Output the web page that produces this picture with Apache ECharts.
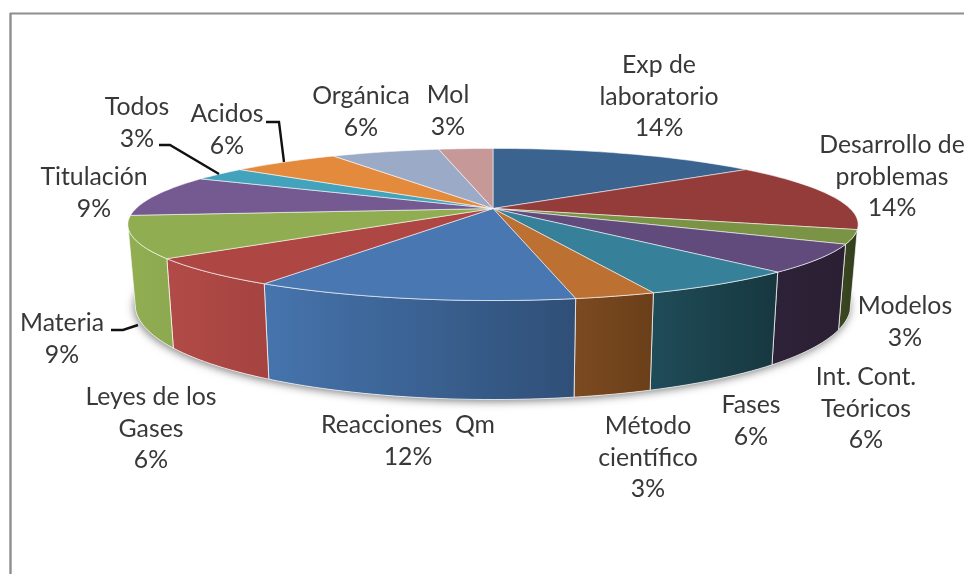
<!DOCTYPE html>
<html>
<head>
<meta charset="utf-8">
<style>html,body{margin:0;padding:0;background:#fff}#c{width:964px;height:574px}</style>
<script src="https://cdn.jsdelivr.net/npm/echarts@6/dist/echarts.min.js"></script>
</head>
<body>
<div id="c"></div>
<script>
// Data
const categories = ['Exp de\nlaboratorio','Desarrollo de\nproblemas','Modelos','Int. Cont.\nTeóricos','Fases','Método\ncientífico','Reacciones  Qm','Leyes de los\nGases','Materia','Titulación','Todos','Acidos','Orgánica','Mol'];
const values = [5,5,1,2,2,1,4,2,3,3,1,2,2,1];
const percentLabels = ['14%','14%','3%','6%','6%','3%','12%','6%','9%','9%','3%','6%','6%','3%'];

// Styles
const topColors = ['#3A638F','#933C3A','#7B9345','#614A7C','#37809A','#BC7031','#4877B1','#AE4744','#90AD52','#755A92','#43A3BC','#E48A3C','#9BAAC7','#C79898'];
const wallColors = [null,null,['#3C4822','#333D1D'],['#2E2238','#2A1F33'],['#1F4C59','#17373F'],['#7D4A21','#693F19'],['#4674AD','#2F4F77'],['#B24B47','#A44340'],['#91AE53','#8CA94F'],null,null,null,null,null];

// Layout
const cx = 493, cy = 208.5, B = 357, A = 72.7, P = 0.21, H0 = 75, HK = 24, BOTTOM_SCALE = 0.98;
const labelCenters = [[659,97],[892,177],[905,322],[866,409],[751,421],[648,458],[408,441],[151,429],[62,339],[94,193],[137,123],[227,130],[361,112],[448,111]];
const leaders = {
  8: [[111,330],[123,330],[138,325]],
  10: [[159,145],[170,145],[219,174]],
  11: [[266,122],[279,122],[284,162]]
};
const FONT = 'Lato, "Open Sans", sans-serif';

const total = values.reduce((a,b)=>a+b,0);
const starts = [];
values.reduce((acc,v,i)=>{starts[i]=acc;return acc+v;},0);

function topPoint(deg){
  const t = deg*Math.PI/180, u = Math.sin(t), v = -Math.cos(t), s = 1/(1-P*v);
  return {x: cx+B*u*s, y: cy+A*v*s, v};
}
function bottomPoint(deg){
  const p = topPoint(deg);
  return [cx+BOTTOM_SCALE*(p.x-cx), p.y+H0+HK*p.v];
}
function arc(a0,a1,fn){
  const n = Math.max(2,Math.ceil(Math.abs(a1-a0)/1.5)), out=[];
  for(let i=0;i<=n;i++) out.push(fn(a0+(a1-a0)*i/n));
  return out;
}
const topXY = d => { const p=topPoint(d); return [p.x,p.y]; };
const angles = i => [starts[i]/total*360,(starts[i]+values[i])/total*360];
// the outline of the solid: walls are only seen between these two angles
const SIL = Math.acos(-P)*180/Math.PI;
const seriesData = categories.map((name,i)=>({name,value:values[i],percent:percentLabels[i]}));

const option = {
  animation:false,
  backgroundColor:'#fff',
  graphic:[
    {type:'line',silent:true,shape:{x1:10.5,y1:13,x2:10.5,y2:574},style:{stroke:'#8e8e8e',lineWidth:2.4}},
    {type:'line',silent:true,shape:{x1:10,y1:13.5,x2:964,y2:13.5},style:{stroke:'#8e8e8e',lineWidth:2}}
  ],
  series:[
    { // soft shadow beneath the pie
      type:'custom',coordinateSystem:'none',silent:true,z:1,data:[0],
      renderItem(){
        return {type:'polygon',shape:{points:arc(0,360,bottomPoint)},
          style:{fill:'#fff',shadowBlur:8,shadowColor:'rgba(0,0,0,0.5)',shadowOffsetX:-1,shadowOffsetY:2}};
      }
    },
    { // side walls
      type:'custom',coordinateSystem:'none',silent:true,z:2,data:seriesData,
      renderItem(params){
        const i=params.dataIndex, c=wallColors[i];
        if(!c) return {type:'group',children:[]};
        let [a0,a1]=angles(i);
        a0=Math.max(a0,180-(180-SIL)); a1=Math.min(a1,360-SIL);
        const tops=arc(a0,a1,topXY), bots=arc(a1,a0,bottomPoint);
        return {type:'polygon',shape:{points:tops.concat(bots)},
          style:{fill:new echarts.graphic.LinearGradient(0,0,1,0,[{offset:0,color:c[0]},{offset:1,color:c[1]}]),
                 stroke:'rgba(255,255,255,0.7)',lineWidth:1,lineJoin:'round'}};
      }
    },
    { // top face
      type:'custom',coordinateSystem:'none',silent:true,z:3,data:seriesData,
      renderItem(params){
        const i=params.dataIndex,[a0,a1]=angles(i);
        return {type:'polygon',shape:{points:[[cx,cy]].concat(arc(a0,a1,topXY))},
          style:{fill:topColors[i],stroke:'rgba(255,255,255,0.55)',lineWidth:1,lineJoin:'round'}};
      }
    },
    { // labels and leader lines
      type:'custom',coordinateSystem:'none',silent:true,z:4,data:seriesData,
      renderItem(params){
        const i=params.dataIndex,[x,y]=labelCenters[i],children=[];
        children.push({type:'text',style:{x,y,text:categories[i]+'\n'+percentLabels[i],
          font:'24.8px '+FONT,fill:'#383838',align:'center',verticalAlign:'middle',lineHeight:31.5}});
        if(leaders[i]) children.push({type:'polyline',shape:{points:leaders[i]},
          style:{fill:'none',stroke:'#111',lineWidth:2.4}});
        return {type:'group',children};
      }
    }
  ]
};
echarts.init(document.getElementById('c'),null,{renderer:'canvas'}).setOption(option);
</script>
</body>
</html>
